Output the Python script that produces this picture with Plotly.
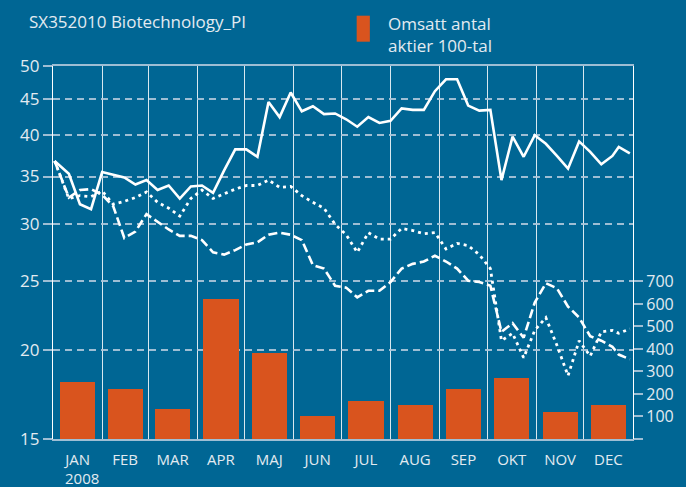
import pandas as pd
import numpy as np
import plotly.graph_objects as go

# ---------------- data ----------------
months = ["JAN", "FEB", "MAR", "APR", "MAJ", "JUN", "JUL", "AUG", "SEP", "OKT", "NOV", "DEC"]
volume_100 = [255, 223, 135, 624, 380, 104, 171, 153, 224, 269, 118, 153]   # Omsatt antal aktier 100-tal

week_dates = ["2008-01-02", "2008-01-11", "2008-01-18", "2008-01-25", "2008-02-01", "2008-02-08",
              "2008-02-15", "2008-02-22", "2008-02-29", "2008-03-07", "2008-03-14", "2008-03-21",
              "2008-03-28", "2008-04-04", "2008-04-11", "2008-04-18", "2008-04-25", "2008-05-02",
              "2008-05-09", "2008-05-16", "2008-05-23", "2008-05-30", "2008-06-06", "2008-06-13",
              "2008-06-20", "2008-06-27", "2008-07-04", "2008-07-11", "2008-07-18", "2008-07-25",
              "2008-08-01", "2008-08-08", "2008-08-15", "2008-08-22", "2008-08-29", "2008-09-05",
              "2008-09-12", "2008-09-19", "2008-09-26", "2008-10-03", "2008-10-10", "2008-10-17",
              "2008-10-24", "2008-10-31", "2008-11-07", "2008-11-14", "2008-11-21", "2008-11-28",
              "2008-12-05", "2008-12-12", "2008-12-19", "2008-12-23", "2008-12-30"]

solid_series = [36.8, 35.3, 32.0, 31.5, 35.5, 35.2, 34.9, 34.1, 34.6, 33.5, 34.0, 32.6,
                33.9, 34.0, 33.2, 35.7, 38.2, 38.2, 37.3, 44.5, 42.4, 45.9, 43.2, 43.9,
                42.8, 42.9, 42.1, 41.1, 42.4, 41.6, 41.9, 43.6, 43.4, 43.4, 46.1, 47.9,
                47.9, 44.0, 43.3, 43.4, 34.6, 39.8, 37.3, 40.0, 38.9, 37.4, 35.9, 39.2,
                37.9, 36.4, 37.4, 38.5, 37.7]

dashed_series = [36.8, 32.7, 33.5, 33.6, 33.0, 31.8, 28.7, 29.3, 31.0, 30.2, 29.5, 28.9,
                 28.9, 28.5, 27.4, 27.2, 27.6, 28.1, 28.3, 29.0, 29.2, 29.0, 28.5, 26.3,
                 26.0, 24.6, 24.45, 23.7, 24.2, 24.2, 24.9, 26.0, 26.4, 26.6, 27.1, 26.6,
                 26.0, 25.0, 24.9, 24.6, 21.2, 21.8, 20.8, 23.3, 24.8, 24.4, 23.0, 22.2,
                 20.9, 20.6, 20.2, 19.7, 19.4]

dotted_series = [36.8, 32.6, 32.9, 32.8, 33.4, 32.0, 32.3, 32.7, 33.3, 32.2, 31.6, 30.8,
                 32.6, 33.5, 32.6, 33.1, 33.6, 34.0, 34.0, 34.6, 33.8, 33.9, 32.9, 32.2,
                 31.6, 30.0, 29.0, 27.4, 29.2, 28.6, 28.6, 29.6, 29.4, 29.1, 29.2, 27.7,
                 28.2, 28.0, 27.2, 26.0, 20.6, 21.1, 19.5, 21.3, 22.2, 20.3, 18.4, 20.6,
                 19.6, 21.2, 21.3, 21.1, 21.4]

left_ticks = [15, 20, 25, 30, 35, 40, 45, 50]
right_ticks = [0, 100, 200, 300, 400, 500, 600, 700]

# ---------------- derived ----------------
month_start = pd.date_range("2008-01-01", "2009-01-01", freq="MS")
month_mid = [month_start[i] + (month_start[i + 1] - month_start[i]) / 2 for i in range(12)]
bar_width_ms = 22.2 * 24 * 3600 * 1000

BG = "#006694"
GRID = "rgba(175,200,218,0.9)"
TXT = "#E3EBF1"
FONT = "Open Sans"

fig = go.Figure()

fig.add_trace(go.Bar(x=month_mid, y=volume_100, width=bar_width_ms, yaxis="y2",
                     marker=dict(color="#D9541E", line=dict(width=0)), showlegend=False))

fig.add_trace(go.Scatter(x=week_dates, y=dashed_series, mode="lines",
                         line=dict(color="white", width=2.6, dash="9px,4px"), showlegend=False))
fig.add_trace(go.Scatter(x=week_dates, y=dotted_series, mode="lines",
                         line=dict(color="white", width=2.8, dash="3px,4px"), showlegend=False))
fig.add_trace(go.Scatter(x=week_dates, y=solid_series, mode="lines",
                         line=dict(color="white", width=2.6), showlegend=False))

# page has an 8px body margin: figure placed at (8, 8)
fig.update_layout(
    width=678, height=479,
    margin=dict(l=39, r=45, t=58, b=48),
    paper_bgcolor=BG, plot_bgcolor=BG,
    font=dict(family=FONT, color=TXT),
    bargap=0,
    xaxis=dict(
        type="date", range=["2008-01-01", "2009-01-01"],
        tickmode="array", tickvals=month_mid, ticktext=months,
        ticks="outside", ticklen=6, tickcolor="rgba(0,0,0,0)",
        tickfont=dict(size=15, color=TXT),
        showgrid=False,
        minor=dict(tickmode="array", tickvals=list(month_start), showgrid=True,
                   gridcolor="rgba(255,255,255,0.85)", gridwidth=1, ticks=""),
        showline=True, mirror=True, linecolor=GRID, linewidth=1.5,
        fixedrange=True,
    ),
    yaxis=dict(
        type="log", range=[np.log10(15), np.log10(50)],
        tickmode="array", tickvals=left_ticks, ticktext=[str(v) for v in left_ticks],
        ticks="outside", ticklen=9, tickwidth=1.5, tickcolor=GRID,
        tickfont=dict(size=17, color=TXT),
        showgrid=True, gridcolor=GRID, gridwidth=1.5, griddash="7px,5px",
        showline=True, linecolor="white", linewidth=1.2,
        zeroline=False,
    ),
    yaxis2=dict(
        overlaying="y", side="right", range=[0, 1657],
        tickmode="array", tickvals=right_ticks,
        ticktext=[("" if v == 0 else str(v)) for v in right_ticks],
        ticks="outside", ticklen=9, tickwidth=1.5, tickcolor=GRID,
        tickfont=dict(size=16, color=TXT),
        showgrid=False, zeroline=False,
        showline=True, linecolor="white", linewidth=1.2,
    ),
)

def px_x(px):
    return (px - 47) / 594.0

def px_y(py):
    return (439 - py) / 373.0

fig.add_shape(type="rect", xref="paper", yref="paper",
              x0=px_x(358), x1=px_x(371.5), y0=px_y(41.7), y1=px_y(15.7),
              fillcolor="#D9541E", line=dict(width=0))

fig.add_annotation(xref="paper", yref="paper", x=px_x(20), y=px_y(22),
                   xanchor="left", yanchor="middle", showarrow=False,
                   text="SX352010 Biotechnology_PI", font=dict(size=17, color=TXT))
fig.add_annotation(xref="paper", yref="paper", x=px_x(388), y=px_y(34.5),
                   xanchor="left", yanchor="middle", showarrow=False, align="left",
                   text="Omsatt antal<br>aktier 100-tal", font=dict(size=17, color=TXT))
fig.add_annotation(xref="paper", yref="paper", x=px_x(57), y=px_y(478),
                   xanchor="left", yanchor="middle", showarrow=False,
                   text="2008", font=dict(size=15, color=TXT))

fig.write_html("out.html",
               post_script="document.body.style.background='%s';"
                           "document.documentElement.style.background='%s';" % (BG, BG))
